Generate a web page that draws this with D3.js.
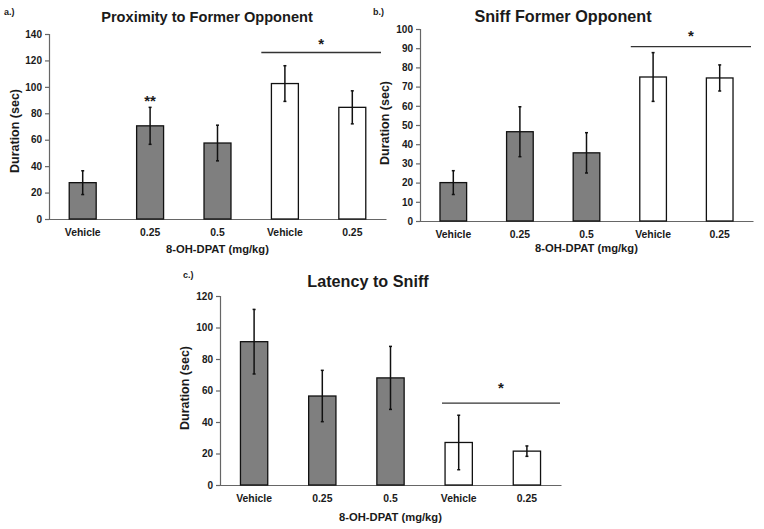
<!DOCTYPE html>
<html><head><meta charset="utf-8">
<script src="https://cdn.jsdelivr.net/npm/d3@7"></script>
<style>
body{margin:0;background:#fff;}
text{font-family:"Liberation Sans",Arial,sans-serif;font-weight:bold;fill:#1a1a1a;}
</style></head>
<body><svg id="c" width="764" height="529"></svg>
<script>
// ---- data ----
const categories = ["Vehicle", "0.25", "0.5", "Vehicle", "0.25"];
const groupFill = ["gray", "gray", "gray", "white", "white"];

const proximityMean = [27.5, 70.5, 57.5, 102.5, 84.5];
const proximityErr  = [9, 14, 13.5, 13.5, 12.5];
const proximityTicks = [0, 20, 40, 60, 80, 100, 120, 140];

const sniffMean = [20, 46.5, 35.5, 75, 74.5];
const sniffErr  = [6.2, 13, 10.5, 12.7, 6.8];
const sniffTicks = [0, 10, 20, 30, 40, 50, 60, 70, 80, 90, 100];

const latencyMean = [91, 56.5, 68, 27, 21.5];
const latencyErr  = [20.5, 16.3, 20, 17.3, 3.3];
const latencyTicks = [0, 20, 40, 60, 80, 100, 120];

// significance annotations: [value of line, value of star]
const proximitySig = {line: 126, star: 133, pairStars: {index: 1, value: 90, label: "**"}};
const sniffSig = {line: 90.8, star: 96.5};
const latencySig = {line: 52, star: 62};

const svg = d3.select("#c");

function panel(o) {
  const g = svg.append("g");
  const x = d3.scaleBand().domain(d3.range(categories.length))
    .range([o.left, o.right]).paddingInner(0.6).paddingOuter(0.3);
  const y = d3.scaleLinear().domain([0, o.max]).range([o.bottom, o.top]);

  // y axis
  const ya = g.append("g").attr("transform", `translate(${o.left},0)`)
    .call(d3.axisLeft(y).tickValues(o.ticks).tickSize(4).tickPadding(3));
  ya.select(".domain").attr("stroke", "#666").attr("stroke-width", 1.2);
  ya.selectAll(".tick line").attr("stroke", "#666").attr("stroke-width", 1.2);
  ya.selectAll(".tick text").attr("font-size", 10).attr("font-family", "Liberation Sans, Arial, sans-serif")
    .attr("font-weight", "bold").attr("fill", "#1a1a1a");

  // x axis
  const xa = g.append("g").attr("transform", `translate(0,${o.bottom})`)
    .call(d3.axisBottom(x).tickSize(0).tickPadding(o.tickPad).tickFormat(i => categories[i]));
  xa.select(".domain").attr("stroke", "#666").attr("stroke-width", 1.2);
  xa.selectAll(".tick text").attr("font-size", 10.4).attr("font-family", "Liberation Sans, Arial, sans-serif")
    .attr("font-weight", "bold").attr("fill", "#1a1a1a");

  // bars
  g.selectAll("rect.bar").data(o.mean).join("rect").attr("class", "bar")
    .attr("x", (d, i) => x(i)).attr("width", x.bandwidth())
    .attr("y", d => y(d)).attr("height", d => y(0) - y(d))
    .attr("fill", (d, i) => groupFill[i] === "gray" ? "#7f7f7f" : "#ffffff")
    .attr("stroke", "#111").attr("stroke-width", 1.3);

  // error bars
  const eb = g.selectAll("g.err").data(o.mean).join("g").attr("class", "err");
  eb.append("line")
    .attr("x1", (d, i) => x(i) + x.bandwidth() / 2).attr("x2", (d, i) => x(i) + x.bandwidth() / 2)
    .attr("y1", (d, i) => y(d + o.err[i])).attr("y2", (d, i) => y(d - o.err[i]))
    .attr("stroke", "#111").attr("stroke-width", 1.5);
  [1, -1].forEach(s => {
    eb.append("line")
      .attr("x1", (d, i) => x(i) + x.bandwidth() / 2 - 1.5).attr("x2", (d, i) => x(i) + x.bandwidth() / 2 + 1.5)
      .attr("y1", (d, i) => y(d + s * o.err[i])).attr("y2", (d, i) => y(d + s * o.err[i]))
      .attr("stroke", "#111").attr("stroke-width", 1.5);
  });

  // significance line
  const step = x.step();
  const x1 = x(3) - o.sigStart * step, x2 = o.right - o.sigEnd;
  g.append("line").attr("x1", x1).attr("x2", x2)
    .attr("y1", y(o.sig.line)).attr("y2", y(o.sig.line))
    .attr("stroke", "#333").attr("stroke-width", 1.3);
  g.append("text").attr("x", (x1 + x2) / 2).attr("y", y(o.sig.star))
    .attr("text-anchor", "middle").attr("dominant-baseline", "central")
    .attr("font-size", 15).text("*");
  if (o.sig.pairStars) {
    const p = o.sig.pairStars;
    g.append("text").attr("x", x(p.index) + x.bandwidth() / 2).attr("y", y(p.value))
      .attr("text-anchor", "middle").attr("dominant-baseline", "central")
      .attr("font-size", 15).text(p.label);
  }

  // titles
  g.append("text").attr("x", o.titleX).attr("y", o.titleY).attr("text-anchor", "middle")
    .attr("dominant-baseline", "central").attr("font-size", o.titleSize).text(o.title);
  g.append("text").attr("x", o.tagX).attr("y", o.tagY).attr("dominant-baseline", "central")
    .attr("font-size", 9).text(o.tag);
  g.append("text").attr("x", (o.left + o.right) / 2).attr("y", o.xTitleY).attr("text-anchor", "middle")
    .attr("dominant-baseline", "central").attr("font-size", 11.2).text("8-OH-DPAT (mg/kg)");
  g.append("text").attr("transform", `translate(${o.yTitleX},${o.yTitleY}) rotate(-90)`)
    .attr("text-anchor", "middle").attr("dominant-baseline", "central")
    .attr("font-size", 12.5).text("Duration (sec)");
}

panel({left: 49, right: 386, top: 34, bottom: 219, max: 140, ticks: proximityTicks,
  mean: proximityMean, err: proximityErr, sig: proximitySig, tickPad: 10, sigStart: 0.15, sigEnd: 5,
  title: "Proximity to Former Opponent", titleX: 207, titleY: 17, titleSize: 14.6,
  tag: "a.)", tagX: 4, tagY: 12, xTitleY: 249, yTitleX: 15, yTitleY: 131});

panel({left: 420, right: 753, top: 29, bottom: 221, max: 100, ticks: sniffTicks,
  mean: sniffMean, err: sniffErr, sig: sniffSig, tickPad: 10, sigStart: 0.135, sigEnd: 2,
  title: "Sniff Former Opponent", titleX: 563, titleY: 16, titleSize: 16.2,
  tag: "b.)", tagX: 373, tagY: 12, xTitleY: 248, yTitleX: 385, yTitleY: 123});

panel({left: 220, right: 561, top: 296, bottom: 485, max: 120, ticks: latencyTicks,
  mean: latencyMean, err: latencyErr, sig: latencySig, tickPad: 10, sigStart: 0.045, sigEnd: 1,
  title: "Latency to Sniff", titleX: 368, titleY: 281, titleSize: 16.2,
  tag: "c.)", tagX: 183, tagY: 275, xTitleY: 517, yTitleX: 185, yTitleY: 388});
</script></body></html>
